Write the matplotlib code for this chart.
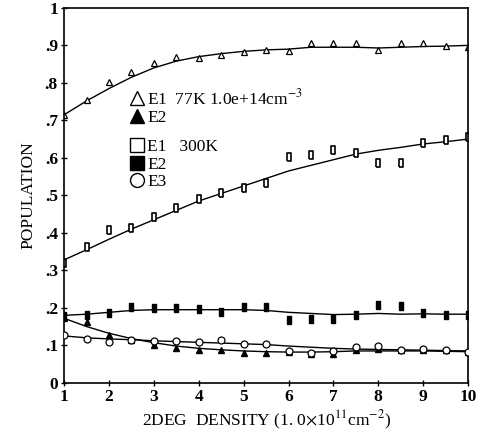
import numpy as np
import matplotlib
matplotlib.use('Agg')
import matplotlib.pyplot as plt
from matplotlib.lines import Line2D

plt.rcParams['font.family'] = ['Liberation Serif', 'DejaVu Serif']
plt.rcParams['mathtext.fontset'] = 'stix'

# densities (1e11 cm^-2)
density = [1, 1.5, 2, 2.5, 3, 3.5, 4, 4.5, 5, 5.5, 6, 6.5, 7, 7.5, 8, 8.5, 9, 9.5, 10]

# 77K data
e1_77 = [0.715, 0.755, 0.803, 0.83, 0.853, 0.87, 0.867, 0.875, 0.883, 0.888, 0.885, 0.907, 0.907, 0.906,
         0.888, 0.907, 0.906, 0.899, 0.896]
e2_77 = [0.173, 0.163, 0.128, 0.115, 0.101, 0.093, 0.088, 0.088, 0.08, 0.08, 0.083, 0.077, 0.078, 0.088,
         0.09, 0.088, 0.088, 0.087, 0.082]
# 300K data
e1_300 = [0.32, 0.363, 0.408, 0.413, 0.443, 0.467, 0.49, 0.507, 0.52, 0.533, 0.603, 0.608, 0.62, 0.613,
          0.587, 0.587, 0.64, 0.648, 0.656]
e2_300 = [0.177, 0.181, 0.187, 0.202, 0.2, 0.2, 0.197, 0.19, 0.203, 0.203, 0.168, 0.17, 0.17, 0.18,
          0.208, 0.205, 0.187, 0.182, 0.18]
e3_300 = [0.128, 0.117, 0.11, 0.115, 0.112, 0.112, 0.11, 0.115, 0.104, 0.104, 0.085, 0.08, 0.085, 0.095,
          0.098, 0.088, 0.09, 0.087, 0.083]

# fitted curves
fit_e1_77 = [0.715, 0.752, 0.785, 0.815, 0.84, 0.858, 0.87, 0.878, 0.884, 0.888, 0.89, 0.895, 0.895, 0.895,
             0.893, 0.895, 0.897, 0.898, 0.9]
fit_e2_77 = [0.172, 0.15, 0.132, 0.118, 0.107, 0.098, 0.092, 0.088, 0.085, 0.083, 0.082, 0.082, 0.083, 0.085,
             0.085, 0.085, 0.085, 0.084, 0.083]
fit_e1_300 = [0.328, 0.355, 0.383, 0.41, 0.435, 0.46, 0.485, 0.505, 0.525, 0.545, 0.565, 0.58, 0.595, 0.61,
              0.62, 0.628, 0.637, 0.643, 0.65]
fit_e2_300 = [0.18, 0.183, 0.188, 0.193, 0.195, 0.195, 0.195, 0.195, 0.195, 0.193, 0.188, 0.185, 0.182, 0.183,
              0.185, 0.183, 0.184, 0.183, 0.183]
fit_e3_300 = [0.125, 0.12, 0.117, 0.115, 0.112, 0.11, 0.108, 0.106, 0.104, 0.102, 0.098, 0.095, 0.092, 0.09,
              0.089, 0.088, 0.087, 0.086, 0.085]

yticks = [0, 0.1, 0.2, 0.3, 0.4, 0.5, 0.6, 0.7, 0.8, 0.9, 1]
ytick_labels = ['0', '.1', '.2', '.3', '.4', '.5', '.6', '.7', '.8', '.9', '1']

# tall narrow box marker like in the scanned plot
box = [(-0.55, -1), (0.55, -1), (0.55, 1), (-0.55, 1), (-0.55, -1)]

fig = plt.figure(figsize=(4.79, 4.38), dpi=100)
ax = fig.add_axes([0.134, 0.126, 0.843, 0.856])

for fit in [fit_e1_77, fit_e2_77, fit_e1_300, fit_e2_300, fit_e3_300]:
    ax.plot(density, fit, color='black', lw=1.0, zorder=1)

ax.plot(density, e1_77, ls='none', marker='^', ms=5, mfc='white', mec='black', mew=0.9, zorder=2)
ax.plot(density, e2_77, ls='none', marker='^', ms=5, mfc='black', mec='black', zorder=2)
ax.plot(density, e1_300, ls='none', marker=box, ms=5.5, mfc='white', mec='black', mew=1.2, zorder=2)
ax.plot(density, e2_300, ls='none', marker=box, ms=5.5, mfc='black', mec='black', zorder=2)
ax.plot(density, e3_300, ls='none', marker='o', ms=5, mfc='white', mec='black', mew=0.9, zorder=3)

ax.set_xlim(1, 10)
ax.set_ylim(0, 1)
ax.set_xticks(range(1, 11))
ax.set_yticks(yticks)
ax.set_yticklabels(ytick_labels)
ax.tick_params(direction='inout', length=5, width=1, labelsize=12.5, pad=2)
for s in ax.spines.values():
    s.set_linewidth(1.2)
for lab in ax.get_xticklabels() + ax.get_yticklabels():
    lab.set_fontweight('bold')

ax.set_xlabel('2DEG  DENSITY (1. 0$\\times$10$^{11}$cm$^{-2}$)', fontsize=12.5, labelpad=3)
ax.set_ylabel('POPULATION', fontsize=12.5, labelpad=6)

h77 = [Line2D([], [], ls='none', marker='^', ms=10, mfc='white', mec='black'),
       Line2D([], [], ls='none', marker='^', ms=10, mfc='black', mec='black')]
leg1 = ax.legend(h77, ['E1  77K 1.0e+14cm$^{-3}$', 'E2'], loc='upper left', frameon=False,
                 bbox_to_anchor=(0.145, 0.805), fontsize=12.5, handlelength=0.8, handletextpad=0.2,
                 labelspacing=0.1, borderaxespad=0)
ax.add_artist(leg1)
h300 = [Line2D([], [], ls='none', marker='s', ms=10, mfc='white', mec='black'),
        Line2D([], [], ls='none', marker='s', ms=10, mfc='black', mec='black'),
        Line2D([], [], ls='none', marker='o', ms=10, mfc='white', mec='black')]
ax.legend(h300, ['E1   300K', 'E2', 'E3'], loc='upper left', frameon=False,
          bbox_to_anchor=(0.145, 0.67), fontsize=12.5, handlelength=0.8, handletextpad=0.2,
          labelspacing=0.1, borderaxespad=0)

fig.savefig('out.png', dpi=100)
